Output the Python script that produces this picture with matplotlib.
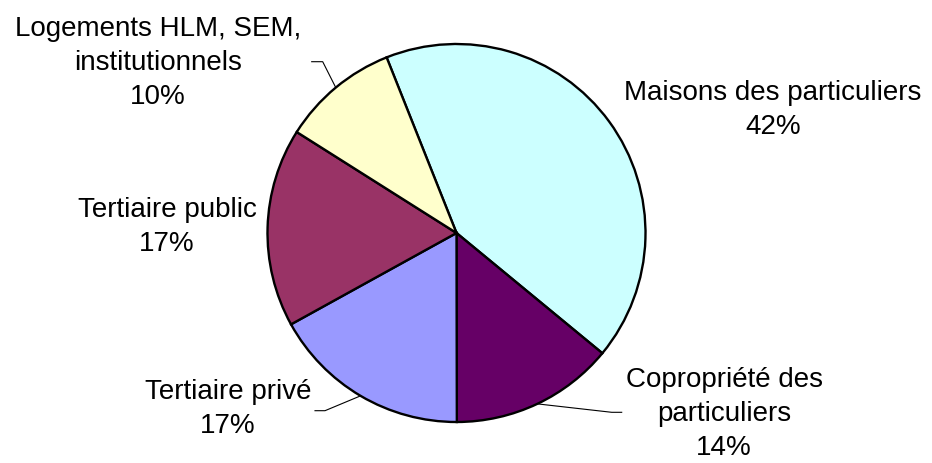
import numpy as np
import matplotlib
matplotlib.use("Agg")
import matplotlib.pyplot as plt

# données du camembert (ordre horaire depuis le haut)
categories = ["Maisons des particuliers", "Copropriété des\nparticuliers", "Tertiaire privé",
              "Tertiaire public", "Logements HLM, SEM,\ninstitutionnels"]
parts = [42, 14, 17, 17, 10]
colors = ["#CCFFFF", "#660066", "#9999FF", "#993366", "#FFFFCC"]

# mise en page (pixels, y vers le haut)
W, H = 932, 464
cx, cy, R = 456.5, H - 234, 189
label_pos = [(773, H - 110), (724, H - 414), (228, H - 409), (167, H - 227), (158, H - 63)]
# coude des traits de rappel (None = pas de trait)
elbows = [None, ((611.7, H - 413.3), (621.7, H - 413.3)), ((325, H - 411.7), (315, H - 411.7)),
          None, ((322.7, H - 62.7), (311.7, H - 62.7))]

fig = plt.figure(figsize=(W / 100, H / 100), dpi=100)
ax = fig.add_axes([0, 0, 1, 1])

wedges, _ = ax.pie(parts, colors=colors, startangle=111.7, counterclock=False,
                   radius=R, center=(cx, cy),
                   wedgeprops=dict(edgecolor="black", linewidth=1.7))
ax.set_xlim(0, W)
ax.set_ylim(0, H)
ax.set_aspect("equal")
ax.axis("off")

for w, lab, val, pos, elb in zip(wedges, categories, parts, label_pos, elbows):
    ax.text(pos[0], pos[1], lab + "\n" + str(val) + "%", ha="center", va="center",
            fontsize=20, family="Liberation Sans", linespacing=1.42, color="black")
    if elb is not None:
        mid = np.deg2rad((w.theta1 + w.theta2) / 2)
        px, py = cx + R * np.cos(mid), cy + R * np.sin(mid)
        ax.plot([px, elb[0][0], elb[1][0]], [py, elb[0][1], elb[1][1]],
                color="black", lw=0.8)

fig.savefig("out.png", dpi=100)
